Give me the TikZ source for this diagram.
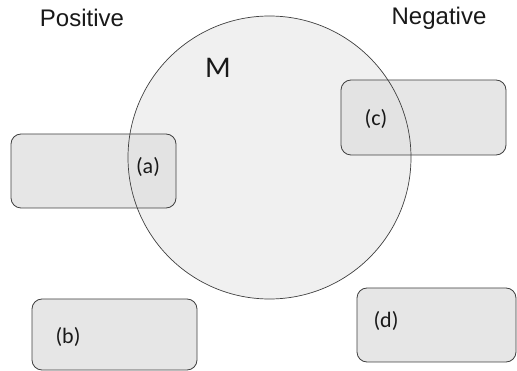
\documentclass[tikz,border=0pt]{standalone}
\usepackage{fontspec}
\setmainfont{Liberation Sans}
\newfontfamily\lblfont{Carlito}
\begin{document}
\begin{tikzpicture}[x=1pt,y=-1pt,
  box/.style={draw=black!75,line width=0.8pt,fill=black!12,fill opacity=0.8,rounded corners=10pt},
  lbl/.style={font=\lblfont\fontsize{22}{24}\selectfont,text=black!90},
  head/.style={font=\fontsize{24}{26}\selectfont,text=black!90}]
\useasboundingbox (0,0) rectangle (517,371);
\fill[white] (0,0) rectangle (517,371);
\node[fill=black!6,circle,minimum size=283pt,inner sep=0pt] (Mfill) at (269.5,157.5) {};
\draw[box] (11,134) rectangle (176,208);
\draw[box] (341,80) rectangle (506,155);
\draw[box] (32,299) rectangle (197,370);
\draw[box] (357,288) rectangle (516,362);
\node[draw=black!75,line width=0.7pt,circle,minimum size=283pt,inner sep=0pt] (M) at (269.5,157.5) {};
\node[head] (pos) at (82,18) {Positive};
\node[head] (neg) at (439,18) {Negative};
\node[font=\lblfont\fontsize{30}{32}\selectfont,text=black!90] (m) at (218,68) {M};
\node[lbl] (a) at (148,167) {(a)};
\node[lbl] (c) at (376,119) {(c)};
\node[lbl] (b) at (68,337) {(b)};
\node[lbl] (d) at (386,321) {(d)};
\end{tikzpicture}
\end{document}
